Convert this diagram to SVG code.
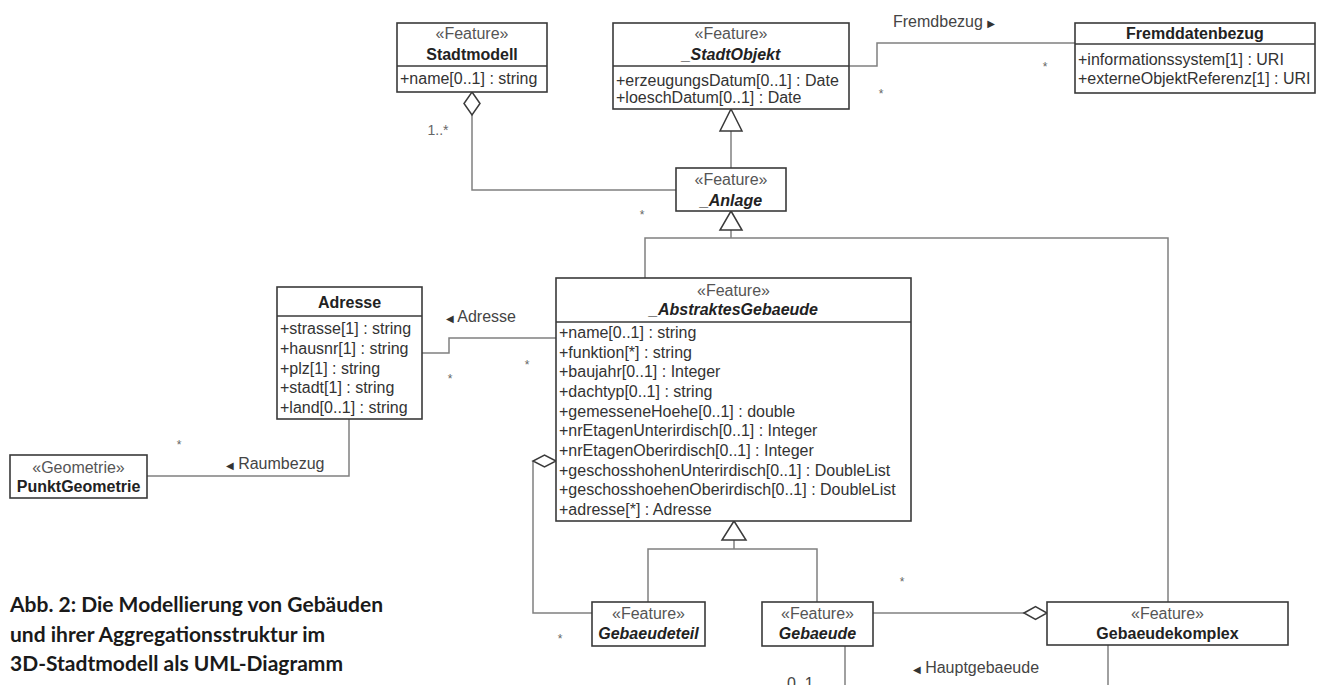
<svg xmlns="http://www.w3.org/2000/svg" width="1324" height="685" viewBox="0 0 1324 685">
<style>
text{font-family:"Liberation Sans",Arial,sans-serif;font-size:16px;fill:#333}
.box{fill:#fff;stroke:#3a3a3a;stroke-width:1.6}
.sep{stroke:#3a3a3a;stroke-width:1.4}
.conn{fill:none;stroke:#808080;stroke-width:1.5}
.tri{fill:#fff;stroke:#3a3a3a;stroke-width:1.5}
.st{fill:#555;text-anchor:middle}
.nm{font-weight:bold;fill:#222;text-anchor:middle}
.it{font-style:italic}
.lb{fill:#444}
.ar{font-family:"DejaVu Sans",sans-serif;font-size:10px;fill:#333}
.mu{font-size:12px;fill:#666;text-anchor:middle}
.cap{font-family:Lato,"Liberation Sans",sans-serif;font-weight:bold;font-size:21px;fill:#1a1a1a}
</style>

<g id="connectors">
  <!-- Stadtmodell aggregation -->
  <polyline class="conn" points="472,115 472,190 676,190"/>
  <polygon class="tri" points="472,92 480,103.5 472,115 464,103.5"/>
  <!-- Fremdbezug -->
  <polyline class="conn" points="849,66 877,66 877,43 1075,43"/>
  <!-- Anlage -> StadtObjekt generalization -->
  <line class="conn" x1="731" y1="131" x2="731" y2="168"/>
  <polygon class="tri" points="731,109 742,131 720,131"/>
  <!-- generalization tree to Anlage -->
  <polyline class="conn" points="731,230 731,238"/>
  <polyline class="conn" points="645,278 645,238 1168,238 1168,602"/>
  <polygon class="tri" points="731,211 742,230 720,230"/>
  <!-- Adresse association -->
  <polyline class="conn" points="422,353 449,353 449,338 556,338"/>
  <!-- Raumbezug -->
  <polyline class="conn" points="349,419 349,476 147,476"/>
  <!-- Gebaeudeteil aggregation -->
  <polyline class="conn" points="533,461 533,613 592,613"/>
  <polygon class="tri" points="556,461 544.5,455 533,461 544.5,467"/>
  <!-- generalization tree to AbstraktesGebaeude -->
  <line class="conn" x1="734" y1="540" x2="734" y2="549"/>
  <polyline class="conn" points="648,602 648,549 817,549 817,602"/>
  <polygon class="tri" points="734,521 746,540 722,540"/>
  <!-- Gebaeude - Gebaeudekomplex aggregation -->
  <line class="conn" x1="873" y1="613" x2="1024" y2="613"/>
  <polygon class="tri" points="1024,613 1035.5,606.5 1047,613 1035.5,619.5"/>
  <!-- Hauptgebaeude -->
  <line class="conn" x1="845" y1="646" x2="845" y2="685"/>
  <line class="conn" x1="1108" y1="645" x2="1108" y2="685"/>

  <!-- labels and multiplicities -->
  <text class="mu" x="438" y="135" style="font-size:14px">1..*</text>
  <text class="mu" x="642" y="219">*</text>
  <text class="lb" x="893" y="27">Fremdbezug <tspan class="ar">▶</tspan></text>
  <text class="mu" x="881" y="98">*</text>
  <text class="mu" x="1045" y="71">*</text>
  <text class="lb" x="446" y="322"><tspan class="ar">◀</tspan> Adresse</text>
  <text class="mu" x="450" y="383">*</text>
  <text class="mu" x="527" y="369">*</text>
  <text class="lb" x="226" y="469"><tspan class="ar">◀</tspan> Raumbezug</text>
  <text class="mu" x="179" y="449">*</text>
  <text class="mu" x="560" y="643">*</text>
  <text class="mu" x="902" y="586">*</text>
  <text class="lb" x="913" y="673"><tspan class="ar">◀</tspan> Hauptgebaeude</text>
  <text class="lb" x="787" y="689">0..1</text>
</g>

<g id="Stadtmodell">
  <rect class="box" x="397" y="23" width="150" height="69"/>
  <line class="sep" x1="397" y1="66" x2="547" y2="66"/>
  <text class="st" x="472" y="39">«Feature»</text>
  <text class="nm" x="472" y="60">Stadtmodell</text>
  <text x="400" y="84">+name[0..1] : string</text>
</g>

<g id="StadtObjekt">
  <rect class="box" x="613" y="23" width="236" height="86"/>
  <line class="sep" x1="613" y1="66" x2="849" y2="66"/>
  <text class="st" x="731" y="39">«Feature»</text>
  <text class="nm it" x="731" y="60">_StadtObjekt</text>
  <text x="616" y="86">+erzeugungsDatum[0..1] : Date</text>
  <text x="616" y="103">+loeschDatum[0..1] : Date</text>
</g>

<g id="Fremddatenbezug">
  <rect class="box" x="1075" y="23" width="240" height="70"/>
  <line class="sep" x1="1075" y1="44" x2="1315" y2="44"/>
  <text class="nm" x="1195" y="39">Fremddatenbezug</text>
  <text x="1078" y="65">+informationssystem[1] : URI</text>
  <text x="1078" y="84">+externeObjektReferenz[1] : URI</text>
</g>

<g id="Anlage">
  <rect class="box" x="676" y="168" width="110" height="43"/>
  <text class="st" x="731" y="185">«Feature»</text>
  <text class="nm it" x="731" y="206">_Anlage</text>
</g>

<g id="Adresse">
  <rect class="box" x="277" y="287" width="145" height="132"/>
  <line class="sep" x1="277" y1="316" x2="422" y2="316"/>
  <text class="nm" x="349.5" y="308">Adresse</text>
  <text x="280" y="334">+strasse[1] : string</text>
  <text x="280" y="354">+hausnr[1] : string</text>
  <text x="280" y="374">+plz[1] : string</text>
  <text x="280" y="393">+stadt[1] : string</text>
  <text x="280" y="413">+land[0..1] : string</text>
</g>

<g id="AbstraktesGebaeude">
  <rect class="box" x="556" y="278" width="355" height="243"/>
  <line class="sep" x1="556" y1="322" x2="911" y2="322"/>
  <text class="st" x="733.5" y="296">«Feature»</text>
  <text class="nm it" x="733.5" y="315">_AbstraktesGebaeude</text>
  <text x="559" y="338">+name[0..1] : string</text>
  <text x="559" y="357.7">+funktion[*] : string</text>
  <text x="559" y="377.4">+baujahr[0..1] : Integer</text>
  <text x="559" y="397">+dachtyp[0..1] : string</text>
  <text x="559" y="416.7">+gemesseneHoehe[0..1] : double</text>
  <text x="559" y="436.4">+nrEtagenUnterirdisch[0..1] : Integer</text>
  <text x="559" y="456">+nrEtagenOberirdisch[0..1] : Integer</text>
  <text x="559" y="475.7">+geschosshohenUnterirdisch[0..1] : DoubleList</text>
  <text x="559" y="495.4">+geschosshoehenOberirdisch[0..1] : DoubleList</text>
  <text x="559" y="515">+adresse[*] : Adresse</text>
</g>

<g id="PunktGeometrie">
  <rect class="box" x="10" y="455" width="137" height="43"/>
  <text class="st" x="78.5" y="473">«Geometrie»</text>
  <text class="nm" x="78.5" y="492">PunktGeometrie</text>
</g>

<g id="Gebaeudeteil">
  <rect class="box" x="592" y="602" width="113" height="44"/>
  <text class="st" x="648.5" y="619">«Feature»</text>
  <text class="nm it" x="648.5" y="639">Gebaeudeteil</text>
</g>

<g id="Gebaeude">
  <rect class="box" x="762" y="602" width="111" height="44"/>
  <text class="st" x="817.5" y="619">«Feature»</text>
  <text class="nm it" x="817.5" y="639">Gebaeude</text>
</g>

<g id="Gebaeudekomplex">
  <rect class="box" x="1047" y="602" width="241" height="43"/>
  <text class="st" x="1167.5" y="619">«Feature»</text>
  <text class="nm" x="1167.5" y="639">Gebaeudekomplex</text>
</g>

<g id="caption">
  <text class="cap" x="10" y="612">Abb. 2: Die Modellierung von Gebäuden</text>
  <text class="cap" x="10" y="642">und ihrer Aggregationsstruktur im</text>
  <text class="cap" x="10" y="671">3D-Stadtmodell als UML-Diagramm</text>
</g>
</svg>
